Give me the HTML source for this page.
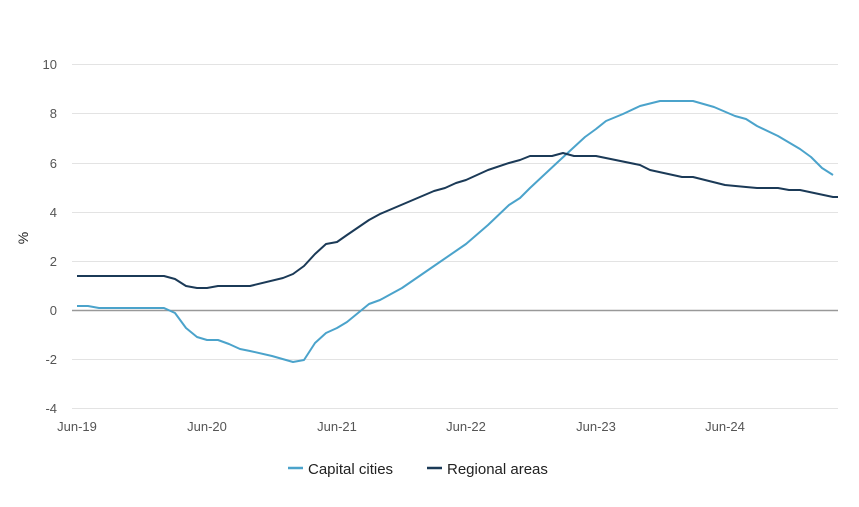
<!DOCTYPE html>
<html><head><style>
body{margin:0;background:#fff;}
svg text{font-family:"Liberation Sans",sans-serif;}
</style></head><body>
<svg width="859" height="502" xmlns="http://www.w3.org/2000/svg">
<g stroke="#e3e3e3" stroke-width="1">
<line x1="72" x2="838" y1="64.5" y2="64.5"/>
<line x1="72" x2="838" y1="113.5" y2="113.5"/>
<line x1="72" x2="838" y1="163.5" y2="163.5"/>
<line x1="72" x2="838" y1="212.5" y2="212.5"/>
<line x1="72" x2="838" y1="261.5" y2="261.5"/>
<line x1="72" x2="838" y1="359.5" y2="359.5"/>
<line x1="72" x2="838" y1="408.5" y2="408.5"/>
</g>
<line x1="72" x2="838" y1="310.5" y2="310.5" stroke="#999" stroke-width="1.5"/>
<g font-size="13" fill="#555" text-anchor="end">
<text x="57" y="69">10</text><text x="57" y="118">8</text><text x="57" y="168">6</text>
<text x="57" y="217">4</text><text x="57" y="266">2</text><text x="57" y="315">0</text>
<text x="57" y="364">-2</text><text x="57" y="413">-4</text>
</g>
<g font-size="13" fill="#555" text-anchor="middle">
<text x="77" y="431">Jun-19</text><text x="207" y="431">Jun-20</text><text x="337" y="431">Jun-21</text>
<text x="466" y="431">Jun-22</text><text x="596" y="431">Jun-23</text><text x="725" y="431">Jun-24</text>
</g>
<text x="28" y="238" font-size="14" fill="#222" text-anchor="middle" transform="rotate(-90 28 238)">%</text>
<polyline fill="none" stroke="#4ba3cb" stroke-width="2" stroke-linejoin="round" points="77,306 88,306 99,308 110,308 164,308 175,313 186,328 197,337 207,340 218,340 229,344 240,349 250,351 272,356 293,362 304,360 315,343 326,333 337,328 347,322 358,313 369,304 380,300 391,294 402,288 434,266 466,244 488,225 509,205 520,198 530,188 560,160 585,137 596,129 606,121 623,114 640,106 660,101 693,101 714,107 735,116 746,119 757,126 778,136 800,149 811,157 822,168 833,175"/>
<polyline fill="none" stroke="#1b3a57" stroke-width="2" stroke-linejoin="round" points="77,276 164,276 175,279 186,286 197,288 207,288 218,286 250,286 283,278 293,274 304,266 315,254 326,244 337,242 347,235 369,220 380,214 434,191 445,188 456,183 466,180 488,170 509,163 520,160 530,156 552,156 563,153 574,156 596,156 640,165 650,170 682,177 693,177 725,185 746,187 757,188 778,188 789,190 800,190 833,197 838,197"/>
<line x1="288" x2="303" y1="468" y2="468" stroke="#4ba3cb" stroke-width="2.5"/>
<text x="308" y="474" font-size="15" fill="#222">Capital cities</text>
<line x1="427" x2="442" y1="468" y2="468" stroke="#1b3a57" stroke-width="2.5"/>
<text x="447" y="474" font-size="15" fill="#222">Regional areas</text>
</svg>
</body></html>
